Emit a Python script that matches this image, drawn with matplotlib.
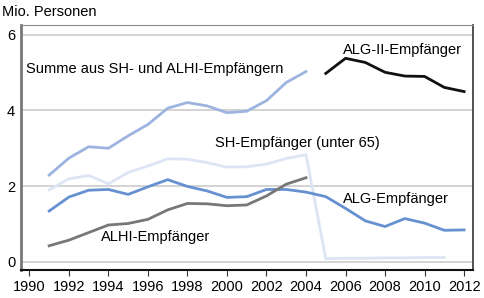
import matplotlib
matplotlib.use("Agg")
import matplotlib.pyplot as plt

plt.rcParams['font.family'] = ['Liberation Sans', 'DejaVu Sans']

years_a = list(range(1991, 2005))
summe = [2.29, 2.74, 3.04, 3.00, 3.33, 3.63, 4.06, 4.21, 4.12, 3.94, 3.98, 4.26, 4.74, 5.03]
alhi = [0.42, 0.57, 0.77, 0.97, 1.01, 1.12, 1.37, 1.54, 1.53, 1.48, 1.50, 1.74, 2.05, 2.22]

years_sh = list(range(1991, 2012))
sh = [1.90, 2.19, 2.28, 2.06, 2.36, 2.53, 2.72, 2.71, 2.62, 2.50, 2.51, 2.58, 2.73, 2.83,
      0.08, 0.09, 0.09, 0.10, 0.10, 0.11, 0.11]

years_alg = list(range(1991, 2013))
alg = [1.34, 1.71, 1.89, 1.91, 1.78, 1.98, 2.17, 1.99, 1.87, 1.70, 1.72, 1.91, 1.91, 1.84,
       1.72, 1.41, 1.08, 0.93, 1.14, 1.02, 0.83, 0.84]

years_alg2 = list(range(2005, 2013))
alg2 = [4.98, 5.38, 5.27, 5.01, 4.91, 4.90, 4.61, 4.50]

xticks = list(range(1990, 2013, 2))
yticks = [0, 2, 4, 6]

fig = plt.figure(figsize=(4.85, 2.98), dpi=100)
ax = fig.add_axes([0.0427, 0.094, 0.976 - 0.0427, 0.916 - 0.094])

for y in yticks:
    ax.axhline(y, color='#cccccc', lw=1.2, zorder=0)

ax.plot(years_sh, sh, color='#dde5f5', lw=2, zorder=2)
ax.plot(years_a, summe, color='#9cb4df', lw=2, zorder=3)
ax.plot(years_alg, alg, color='#6690d0', lw=2, zorder=4)
ax.plot(years_a, alhi, color='#777777', lw=2, zorder=5)
ax.plot(years_alg2, alg2, color='#111111', lw=2, zorder=6)

fs = 10.5
ax.text(1989.83, 5.10, 'Summe aus SH- und ALHI-Empfängern', fontsize=fs, va='center', ha='left')
ax.text(2005.87, 5.60, 'ALG-II-Empfänger', fontsize=fs, va='center', ha='left')
ax.text(1999.40, 3.14, 'SH-Empfänger (unter 65)', fontsize=fs, va='center', ha='left')
ax.text(2005.87, 1.66, 'ALG-Empfänger', fontsize=fs, va='center', ha='left')
ax.text(1993.63, 0.65, 'ALHI-Empfänger', fontsize=fs, va='center', ha='left')
fig.text(0.004, 1 - 12 / 298, 'Mio. Personen', fontsize=fs, va='center', ha='left')

ax.set_xlim(1989.56, 2012.47)
ax.set_ylim(-0.22, 6.26)
ax.set_xticks(xticks)
ax.set_xticklabels([str(x) for x in xticks])
ax.set_yticks(yticks)
ax.set_yticklabels([str(y) for y in yticks])
ax.tick_params(axis='x', length=4, width=0.8, color='#333333', labelsize=fs, pad=3)
ax.tick_params(axis='y', length=0, labelsize=fs, pad=4)

ax.spines['left'].set_color('#777777')
ax.spines['left'].set_linewidth(2)
ax.spines['bottom'].set_color('#111111')
ax.spines['bottom'].set_linewidth(1.5)
ax.spines['top'].set_color('#888888')
ax.spines['top'].set_linewidth(0.8)
ax.spines['right'].set_color('#444444')
ax.spines['right'].set_linewidth(1.3)

fig.savefig('out.png', dpi=100)
